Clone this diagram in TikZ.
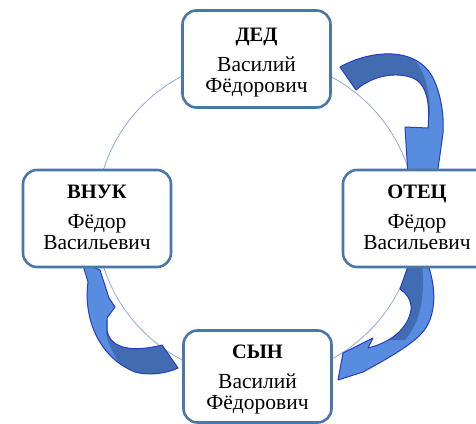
\documentclass[tikz,border=0pt]{standalone}
\usepackage{fontspec}
\setmainfont{Liberation Serif}
\definecolor{boxblue}{RGB}{74,118,168}
\definecolor{circblue}{RGB}{145,172,212}
\definecolor{arrlight}{RGB}{88,140,222}
\definecolor{arrdark}{RGB}{66,108,178}
\definecolor{arrline}{RGB}{40,60,200}
\tikzset{
  person/.style={draw=boxblue, line width=2.6pt, fill=white, rounded corners=14pt,
    minimum width=148pt, minimum height=97pt, align=center, inner sep=2pt,
    font=\fontsize{21.5}{21}\selectfont},
  ring/.style={draw=circblue, line width=0.8pt},
  arrfill/.style={fill=arrlight},
  arrshade/.style={fill=arrdark},
  arredge/.style={draw=arrline, line width=1pt, line join=round}
}
\newcommand{\persontext}[4][3pt]{\raisebox{-#1}[\height][\depth]{\begin{tabular}{@{}c@{}}{\fontsize{20.5}{21}\selectfont\textbf{#2}}\\[9pt]#3\\#4\end{tabular}}}
\def\arrowA{(340,67) .. controls (370,50) and (418,45) .. (434,80)
  .. controls (442,98) and (444,118) .. (443,133) -- (437,176) -- (408,176)
  -- (405,127) -- (428,128) .. controls (430,105) and (428,82) .. (410,77)
  .. controls (390,71) and (368,79) .. (356,90) -- cycle}
\def\arrowB{(400,289) -- (412,255) -- (424,255) .. controls (438,285) and (437,318) .. (421,334)
  .. controls (410,346) and (385,360) .. (363,372) -- (338,380) -- (343,353)
  -- (373,338) -- (368,348) .. controls (392,342) and (408,328) .. (411,310)
  .. controls (412,300) and (406,293) .. (400,289) -- cycle}
\def\arrowC{(162,345) .. controls (135,352) and (110,350) .. (107,330) -- (107,318)
  -- (115,307) -- (109,298) -- (100,270) -- (82,262) -- (88,282)
  .. controls (83,320) and (100,358) .. (135,372) .. controls (150,376) and (168,373) .. (178,368) -- cycle}
\begin{document}
\begin{tikzpicture}[x=1pt,y=-1pt]
\useasboundingbox (0,0) rectangle (476,423);
\fill[white] (0,0) rectangle (476,423);
% ring
\coordinate (ctr) at (256,218);
\draw[ring] (ctr) circle[radius=160];
% arrow 1: DED -> OTETS
\fill[arrfill] \arrowA;
\begin{scope}
  \clip (330,30) -- (410,30) -- (410,55) .. controls (425,68) and (430,92) .. (430,115) -- (330,115) -- cycle;
  \fill[arrshade] \arrowA;
\end{scope}
\draw[arredge] \arrowA;
% arrow 2: OTETS -> SYN
\fill[arrfill] \arrowB;
\begin{scope}
  \clip (380,250) -- (420,250) .. controls (426,285) and (424,318) .. (405,340) -- (380,340) -- cycle;
  \fill[arrshade] \arrowB;
\end{scope}
\draw[arredge] \arrowB;
% arrow 3: SYN -> VNUK
\fill[arrfill] \arrowC;
\begin{scope}
  \clip (106,334) .. controls (110,350) and (118,362) .. (130,380) -- (200,380) -- (200,320) -- (106,320) -- cycle;
  \fill[arrshade] \arrowC;
\end{scope}
\draw[arredge] \arrowC;
% boxes
\node[person] (ded) at (256.5,59) {\persontext[4pt]{ДЕД}{Василий}{Фёдорович}};
\node[person] (otec) at (417,218.5) {\persontext[1pt]{ОТЕЦ}{Фёдор}{Васильевич}};
\node[person] (vnuk) at (97,218.5) {\persontext[1pt]{ВНУК}{Фёдор}{Васильевич}};
\node[person, minimum height=92pt] (syn) at (257.5,376.5) {\persontext[3pt]{СЫН}{Василий}{Фёдорович}};
\end{tikzpicture}
\end{document}
